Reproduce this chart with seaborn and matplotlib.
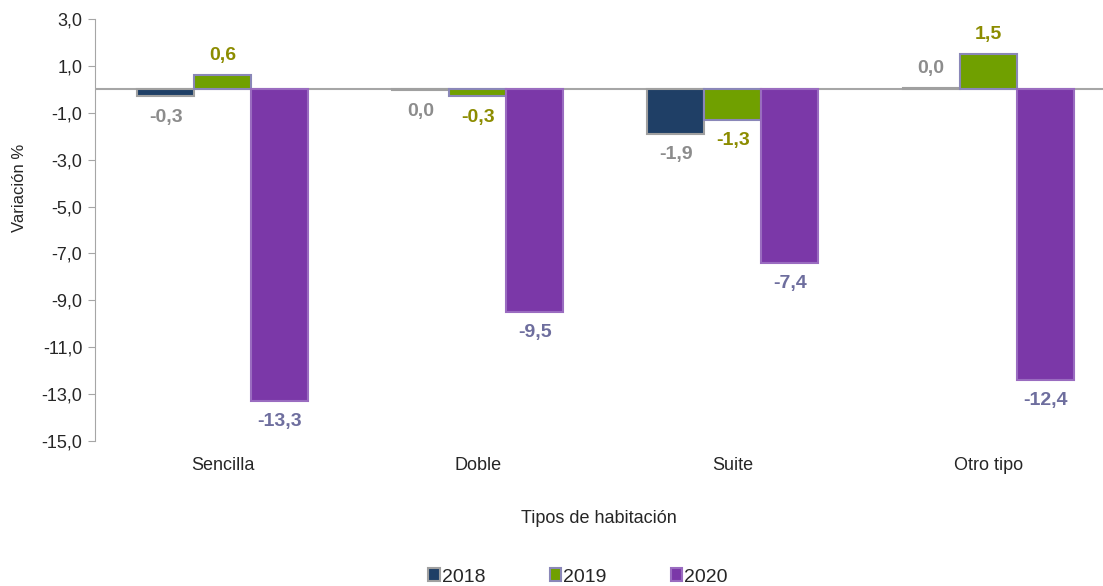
import numpy as np
import pandas as pd
import matplotlib
matplotlib.use('Agg')
import matplotlib.pyplot as plt
import seaborn as sns
from matplotlib.patches import Patch
from matplotlib.ticker import FuncFormatter

tipos = ['Sencilla', 'Doble', 'Suite', 'Otro tipo']
anios = ['2018', '2019', '2020']
v2018 = [-0.3, -0.04, -1.9, 0.04]
v2019 = [0.6, -0.3, -1.3, 1.5]
v2020 = [-13.3, -9.5, -7.4, -12.4]

fill = {'2018': '#1F3F66', '2019': '#70A000', '2020': '#7B38A8'}
edge = {'2018': '#A0A0A0', '2019': '#8A87B8', '2020': '#9A6CC0'}
lab_col = {'2018': '#8C8C8C', '2019': '#8C8C00', '2020': '#6E6E9E'}

df = pd.DataFrame({
    'tipo': tipos * 3,
    'anio': ['2018'] * 4 + ['2019'] * 4 + ['2020'] * 4,
    'valor': v2018 + v2019 + v2020,
})

sns.set_style('white')
plt.rcParams['font.family'] = ['Liberation Sans', 'DejaVu Sans']

fig = plt.figure(figsize=(11.03, 5.86), dpi=100)
ax = fig.add_axes([95 / 1103, 1 - 441 / 586, (1103 - 95) / 1103, (441 - 19) / 586])

sns.barplot(data=df, x='tipo', y='valor', hue='anio', order=tipos, hue_order=anios,
            palette=fill, saturation=1, width=0.67, ax=ax, legend=False, errorbar=None)

for anio, cont in zip(anios, ax.containers):
    for bar in cont:
        bar.set_edgecolor(edge[anio])
        bar.set_linewidth(1.5)
        v = bar.get_height()
        txt = f'{abs(v) if round(v, 1) == 0 else v:.1f}'.replace('.', ',')
        off = 14.5 if v >= 0 else -15
        ax.annotate(txt, (bar.get_x() + bar.get_width() / 2, v),
                    xytext=(0, off), textcoords='offset points',
                    ha='center', va='center', fontsize=14, fontweight='bold',
                    color=lab_col[anio])

ax.axhline(0, color='#A6A6A6', lw=1.5, zorder=0)
ax.set_ylim(-15, 3)
ax.set_xlim(-0.5, 3.45)
ax.set_yticks(np.arange(-15, 4, 2))
ax.yaxis.set_major_formatter(FuncFormatter(lambda y, p: f'{y:.1f}'.replace('.', ',')))

for s in ['top', 'right', 'bottom']:
    ax.spines[s].set_visible(False)
ax.spines['left'].set_color('#A6A6A6')
ax.tick_params(axis='y', left=True, length=5, color='#A6A6A6', labelsize=13, pad=4)
ax.tick_params(axis='x', bottom=False, labelsize=13, pad=8)

ax.set_ylabel('Variación %', fontsize=12)
ax.yaxis.set_label_coords(-0.067, 0.6)
ax.set_xlabel('Tipos de habitación', fontsize=13, labelpad=26)

handles = [Patch(facecolor=fill[a], edgecolor=edge[a], linewidth=1.5, label=a) for a in anios]
fig.legend(handles=handles, loc='center', bbox_to_anchor=(578 / 1103, 1 - 577 / 586),
           ncol=3, frameon=False, fontsize=14, handlelength=0.6, handleheight=0.6,
           handletextpad=0.1, columnspacing=3.3)

fig.savefig('out.png', dpi=100)
